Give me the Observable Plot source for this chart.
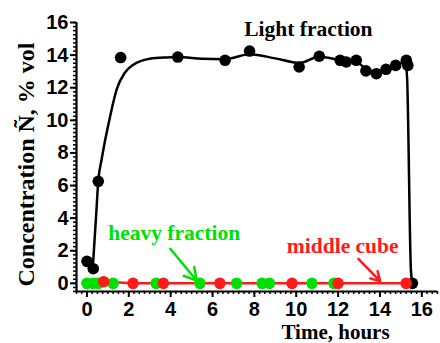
<!DOCTYPE html>
<html>
<head>
<meta charset="utf-8">
<script src="https://cdn.jsdelivr.net/npm/d3@7"></script>
<script src="https://cdn.jsdelivr.net/npm/@observablehq/plot@0.6"></script>
<style>
  html, body { margin: 0; padding: 0; background: white; }
</style>
</head>
<body>
<div id="chart"></div>
<script>
// Light fraction measurements
const lightX = [0.0, 0.3, 0.54, 1.61, 4.34, 6.6, 7.77, 10.14, 11.1, 12.1, 12.39, 12.87, 13.33, 13.83, 14.29, 14.75, 15.26, 15.33, 15.55];
const lightY = [1.35, 0.9, 6.26, 13.85, 13.88, 13.68, 14.25, 13.27, 13.93, 13.68, 13.58, 13.68, 13.03, 12.86, 13.13, 13.37, 13.68, 13.37, 0.0];
// Fitted curve for light fraction
const fitX = [0.28, 0.36, 0.44, 0.54, 0.7, 0.84, 1.0, 1.15, 1.42, 1.8, 2.2, 2.6, 3.0, 3.8, 4.34, 5.5, 6.6, 7.77, 9.0, 10.14, 11.1, 12.1, 12.87, 13.33, 13.83, 14.29, 14.75, 15.22, 15.3, 15.48, 15.55];
const fitY = [1.0, 2.6, 4.2, 6.26, 7.6, 8.6, 9.6, 10.5, 11.9, 12.9, 13.4, 13.65, 13.78, 13.86, 13.88, 13.78, 13.75, 14.05, 13.8, 13.52, 13.9, 13.7, 13.6, 13.15, 12.95, 13.1, 13.35, 13.6, 12.5, 0.8, 0.05];
// Heavy fraction
const heavyX = [0.0, 0.3, 0.55, 1.25, 3.3, 5.4, 7.15, 8.37, 8.72, 10.75, 11.8];
const heavyY = [0, 0, 0, 0, 0, 0, 0, 0, 0, 0, 0];
// Middle cube
const middleX = [0.8, 2.2, 3.65, 6.35, 9.8, 12.0, 15.25];
const middleY = [0.1, 0, 0, 0, 0, 0, 0];
// Ticks
const xTicks = [0, 2, 4, 6, 8, 10, 12, 14, 16];
const yTicks = [0, 2, 4, 6, 8, 10, 12, 14, 16];
const xMinor = d3.range(-0.5, 16.76, 0.25);
const yMinor = d3.range(-0.5, 16.01, 0.25);
// Annotations
const labelText = ["Light fraction", "heavy fraction", "middle cube"];
const labelX = [10.58, 4.17, 12.22];
const labelY = [15.2, 2.63, 1.85];
const labelColor = ["black", "#00e000", "#ff1a1a"];
const arrowX1 = [3.98, 12.97], arrowY1 = [2.12, 1.5];
const arrowX2 = [5.24, 14.01], arrowY2 = [0.17, 0.13];
const arrowColor = ["#00e000", "#ff1a1a"];

const light = lightX.map((x, i) => ({x, y: lightY[i]}));
const fit = fitX.map((x, i) => ({x, y: fitY[i]}));
const heavy = heavyX.map((x, i) => ({x, y: heavyY[i]}));
const middle = middleX.map((x, i) => ({x, y: middleY[i]}));
const labels = labelText.map((t, i) => ({t, x: labelX[i], y: labelY[i], c: labelColor[i]}));
const arrows = arrowX1.map((x1, i) => ({x1, y1: arrowY1[i], x2: arrowX2[i], y2: arrowY2[i], c: arrowColor[i]}));

const serif = "'Liberation Serif', 'Times New Roman', serif";

const chart = Plot.plot({
  width: 440,
  height: 343,
  marginLeft: 76,
  marginRight: 3,
  marginTop: 22,
  marginBottom: 52,
  x: {domain: [-0.5, 16.75]},
  y: {domain: [-0.5, 16]},
  style: {fontFamily: "'Liberation Sans', Arial, sans-serif", fontSize: "20px", fontWeight: "bold", color: "black", background: "white", overflow: "visible"},
  marks: [
    Plot.axisX({ticks: xMinor, tickSize: 3, tickFormat: () => "", strokeWidth: 1.5, label: null}),
    Plot.axisX({ticks: xTicks, tickSize: 6, tickPadding: 4, strokeWidth: 2, label: null}),
    Plot.axisY({ticks: yMinor, tickSize: 3, tickFormat: () => "", strokeWidth: 1.5, label: null}),
    Plot.axisY({ticks: yTicks, tickSize: 6, tickPadding: 2, strokeWidth: 2, label: null}),
    Plot.ruleX([-0.5], {strokeWidth: 2.2}),
    Plot.ruleY([-0.5], {strokeWidth: 2.2}),
    Plot.line(fit, {x: "x", y: "y", curve: "monotone-x", stroke: "black", strokeWidth: 2.5}),
    Plot.dot(light, {x: "x", y: "y", r: 5.8, fill: "black"}),
    Plot.line(middle, {x: "x", y: "y", stroke: "#ff1a1a", strokeWidth: 2.5}),
    Plot.dot(heavy, {x: "x", y: "y", r: 5.8, fill: "#00e000"}),
    Plot.dot(middle, {x: "x", y: "y", r: 5.8, fill: "#ff1a1a"}),
    Plot.arrow(arrows, {x1: "x1", y1: "y1", x2: "x2", y2: "y2", stroke: "c", strokeWidth: 2.5, headLength: 11}),
    Plot.text(labels, {x: "x", y: "y", text: "t", fill: "c", fontFamily: serif, fontSize: 21.5, lineAnchor: "bottom", textAnchor: "middle"}),
    Plot.text(["Time, hours"], {frameAnchor: "bottom", dx: 78.5, dy: 47, lineAnchor: "bottom", fontFamily: serif, fontSize: 21}),
    Plot.text(["Concentration Ñ, % vol"], {frameAnchor: "left", rotate: -90, dx: -43, dy: 7.5, lineAnchor: "bottom", textAnchor: "middle", fontFamily: serif, fontSize: 24})
  ]
});
document.getElementById("chart").appendChild(chart);
</script>
</body>
</html>
